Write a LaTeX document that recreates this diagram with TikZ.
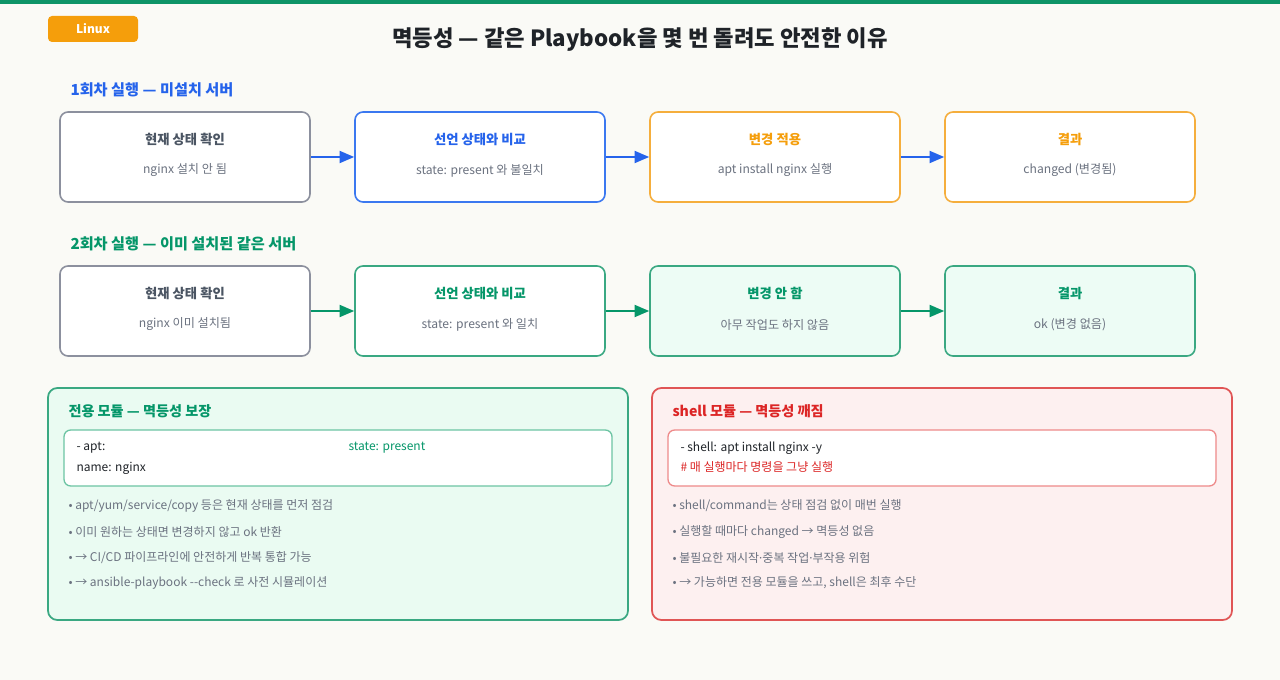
\documentclass[tikz,border=0pt]{standalone}
\usepackage{fontspec}
\setmainfont{Noto Sans CJK KR}
\newfontfamily\latinfont{Noto Sans}
\usetikzlibrary{arrows.meta}

\definecolor{pagebg}{HTML}{FAFAF6}
\definecolor{topgreen}{HTML}{0E9467}
\definecolor{badgeorange}{HTML}{F59E0B}
\definecolor{titledark}{HTML}{1F2328}
\definecolor{stepgray}{HTML}{8C909E}
\definecolor{graytitle}{HTML}{4B5563}
\definecolor{textgray}{HTML}{6B7280}
\definecolor{runblue}{HTML}{2563EB}
\definecolor{blueline}{HTML}{3B78F0}
\definecolor{orangeline}{HTML}{F5AE3D}
\definecolor{runorange}{HTML}{F59E0B}
\definecolor{rungreen}{HTML}{059669}
\definecolor{greenline}{HTML}{3AA882}
\definecolor{greenfill}{HTML}{EDFCF5}
\definecolor{goodfill}{HTML}{EAFBF2}
\definecolor{goodcode}{HTML}{6CC4A3}
\definecolor{badred}{HTML}{DC2626}
\definecolor{badline}{HTML}{E05555}
\definecolor{badfill}{HTML}{FDF0F0}
\definecolor{badcode}{HTML}{EE8A8A}
\definecolor{codedark}{HTML}{1F2328}

\tikzset{every picture/.style={line width=0.75pt}}
\tikzset{
  stepbox/.style={draw, fill=white, rounded corners=6pt, line width=1.2pt,
    minimum width=187.5pt, minimum height=67.5pt, inner sep=0pt},
  boxtitle/.style={font=\fontsize{10}{12}\selectfont\bfseries, inner sep=0pt},
  boxsub/.style={font=\fontsize{9.1}{11}\selectfont, text=textgray, inner sep=0pt},
  runlabel/.style={anchor=west, inner sep=0pt, font=\fontsize{11.4}{14}\selectfont\bfseries},
  paneltitle/.style={anchor=west, inner sep=0pt, font=\fontsize{10.6}{13}\selectfont\bfseries},
  flow/.style={-{Triangle[length=11pt,width=9pt]}, line width=1.5pt},
  panel/.style={draw, rounded corners=7pt, line width=1.3pt,
    minimum width=435pt, minimum height=174pt, inner sep=0pt},
  codebox/.style={draw, fill=white, rounded corners=5pt, line width=1pt,
    minimum width=411pt, minimum height=42pt, inner sep=0pt},
  codeline/.style={anchor=west, inner sep=0pt, font=\fontsize{9}{11}\selectfont},
  bullet/.style={anchor=west, inner sep=0pt, text=textgray, font=\fontsize{9}{11}\selectfont},
}

\begin{document}
\begin{tikzpicture}[x=0.75pt,y=0.75pt,yscale=-1,xscale=1]
\useasboundingbox (0,0) rectangle (1280,680);
\fill[pagebg] (0,0) rectangle (1280,680);
\fill[topgreen] (0,0) rectangle (1280,4);

% Badge and title
\node[fill=badgeorange, rounded corners=3pt, minimum width=67.5pt, minimum height=19.5pt,
  inner sep=0pt, text=white, font=\fontsize{9}{11}\selectfont\bfseries] (badge) at (93,29) {Linux};
\node[inner sep=0pt, text=titledark, font=\fontsize{16.7}{20}\selectfont\bfseries] (title) at (640,40)
  {멱등성 — 같은 Playbook을 몇 번 돌려도 안전한 이유};

% Run 1
\node[runlabel, text=runblue] (run1) at (70,90) {1회차 실행 — 미설치 서버};

\node[stepbox, draw=stepgray] (a1) at (185,157) {};
\node[stepbox, draw=blueline] (a2) at (480,157) {};
\node[stepbox, draw=orangeline] (a3) at (775,157) {};
\node[stepbox, draw=orangeline] (a4) at (1070,157) {};

\node[boxtitle, text=graytitle] (a1t) at (185,139.5) {현재 상태 확인};
\node[boxsub] (a1s) at (185,170.5) {nginx 설치 안 됨};
\node[boxtitle, text=runblue] (a2t) at (480,139.5) {선언 상태와 비교};
\node[boxsub] (a2s) at (480,170.5) {state: present 와 불일치};
\node[boxtitle, text=runorange] (a3t) at (775,139.5) {변경 적용};
\node[boxsub] (a3s) at (775,170.5) {apt install nginx 실행};
\node[boxtitle, text=runorange] (a4t) at (1070,139.5) {결과};
\node[boxsub] (a4s) at (1070,170.5) {changed (변경됨)};

\draw[flow, runblue] (a1) -- (a2);
\draw[flow, runblue] (a2) -- (a3);
\draw[flow, runblue] (a3) -- (a4);

% Run 2
\node[runlabel, text=rungreen] (run2) at (70,244) {2회차 실행 — 이미 설치된 같은 서버};

\node[stepbox, draw=stepgray] (b1) at (185,311) {};
\node[stepbox, draw=greenline] (b2) at (480,311) {};
\node[stepbox, draw=greenline, fill=greenfill] (b3) at (775,311) {};
\node[stepbox, draw=greenline, fill=greenfill] (b4) at (1070,311) {};

\node[boxtitle, text=graytitle] (b1t) at (185,293.5) {현재 상태 확인};
\node[boxsub] (b1s) at (185,324.5) {nginx 이미 설치됨};
\node[boxtitle, text=rungreen] (b2t) at (480,293.5) {선언 상태와 비교};
\node[boxsub] (b2s) at (480,324.5) {state: present 와 일치};
\node[boxtitle, text=rungreen] (b3t) at (775,293.5) {변경 안 함};
\node[boxsub] (b3s) at (775,324.5) {아무 작업도 하지 않음};
\node[boxtitle, text=rungreen] (b4t) at (1070,293.5) {결과};
\node[boxsub] (b4s) at (1070,324.5) {ok (변경 없음)};

\draw[flow, rungreen] (b1) -- (b2);
\draw[flow, rungreen] (b2) -- (b3);
\draw[flow, rungreen] (b3) -- (b4);

% Dedicated module panel
\node[panel, draw=greenline, fill=goodfill] (good) at (338,504) {};
\node[paneltitle, text=rungreen] (goodt) at (68,411) {전용 모듈 — 멱등성 보장};
\node[codebox, draw=goodcode] (goodc) at (338,458) {};
\node[codeline, text=codedark] (gc1) at (76,448) {- apt:};
\node[codeline, text=rungreen] (gc2) at (348,448) {state: present};
\node[codeline, text=codedark] (gc3) at (76,468) {name: nginx};
\node[bullet] (g1) at (68,506) {• apt/yum/service/copy 등은 현재 상태를 먼저 점검};
\node[bullet] (g2) at (68,532) {• 이미 원하는 상태면 변경하지 않고 ok 반환};
\node[bullet] (g3) at (68,557.5) {• → CI/CD 파이프라인에 안전하게 반복 통합 가능};
\node[bullet] (g4) at (68,583) {• → ansible-playbook -{}-check 로 사전 시뮬레이션};

% Shell module panel
\node[panel, draw=badline, fill=badfill] (bad) at (942,504) {};
\node[paneltitle, text=badred] (badt) at (672,411) {shell 모듈 — 멱등성 깨짐};
\node[codebox, draw=badcode] (badc) at (942,458) {};
\node[codeline, text=codedark] (bc1) at (680,448) {- shell: apt install nginx -y};
\node[codeline, text=badred] (bc2) at (680,467) {\# 매 실행마다 명령을 그냥 실행};
\node[bullet] (s1) at (672,506) {• shell/command는 상태 점검 없이 매번 실행};
\node[bullet] (s2) at (672,532) {• 실행할 때마다 changed → 멱등성 없음};
\node[bullet] (s3) at (672,557.5) {• 불필요한 재시작{\latinfont ·}중복 작업{\latinfont ·}부작용 위험};
\node[bullet] (s4) at (672,583) {• → 가능하면 전용 모듈을 쓰고, shell은 최후 수단};

\end{tikzpicture}
\end{document}
